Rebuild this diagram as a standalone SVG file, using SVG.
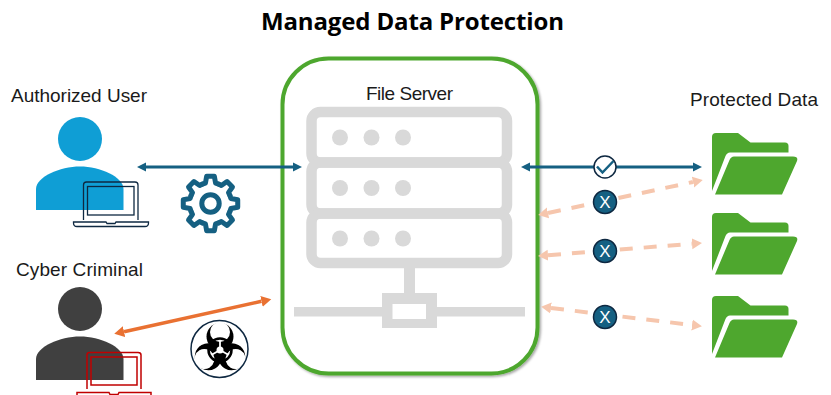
<svg xmlns="http://www.w3.org/2000/svg" width="831" height="395" viewBox="0 0 831 395">
<style>
text{font-family:"Liberation Sans",Arimo,sans-serif;fill:#1a1a1a}
.lbl{font-size:19px}
.title{font-size:24px;font-weight:700;fill:#000;font-family:"Open Sans","Liberation Sans",sans-serif}
.srv{fill:none;stroke:#d9d9d9;stroke-width:10.5}
.dot{fill:#d9d9d9}
.gray{fill:#d9d9d9}
.blue{fill:none;stroke:#156082;stroke-width:3;marker-start:url(#ab);marker-end:url(#ab)}
.orange{fill:none;stroke:#e97132;stroke-width:3.5;marker-start:url(#ao);marker-end:url(#ao)}
.peach{fill:none;stroke:#f6c6ad;stroke-width:4;stroke-dasharray:13 11;marker-start:url(#ap);marker-end:url(#ap)}
.x{fill:#156082;stroke:#0e2841;stroke-width:1.5}
.xt{font-size:17px;fill:#fff;text-anchor:middle}
.lapb{fill:none;stroke:#0e2841;stroke-width:1.3}
.lapr{fill:none;stroke:#c00000;stroke-width:1.5}
.folder{fill:#4ea72e}
.tooth{fill:none;stroke:#156082;stroke-width:5;stroke-linejoin:round;stroke-linecap:round}
</style>
<defs>
<marker id="ab" markerUnits="userSpaceOnUse" markerWidth="10" markerHeight="10" refX="0" refY="5" orient="auto-start-reverse"><path d="M0 0.5L9 5L0 9.500Z" fill="#156082"/></marker>
<marker id="ao" markerUnits="userSpaceOnUse" markerWidth="11" markerHeight="12" refX="0" refY="6" orient="auto-start-reverse"><path d="M0 0.500L10 6L0 11.500Z" fill="#e97132"/></marker>
<marker id="ap" markerUnits="userSpaceOnUse" markerWidth="11" markerHeight="12" refX="0" refY="6" orient="auto-start-reverse"><path d="M0 0.500L10 6L0 11.500Z" fill="#f6c6ad"/></marker>
<filter id="sh" x="-5%" y="-5%" width="110%" height="110%"><feDropShadow dx="1.500" dy="1.500" stdDeviation="1.200" flood-color="#000" flood-opacity="0.350"/></filter>
<path id="body" d="M36 210V189C36 177 60 166.500 80 166.500C100 166.500 123.500 177 123.500 189V210Z"/>
<path id="fold" fill-rule="evenodd" d="M712 137Q712 133 716 133H738L750.500 142.500H785Q788.500 142.500 788.500 146V152.500H730Q727 152.500 725.500 156L712 191ZM734 156.500H793Q798.500 156.500 797 161L782 194.500H715L729.500 160Q731 156.500 734 156.500Z"/>
<path id="tooth" class="tooth" d="M-8.040 -19.400L-5.080 -20.380L-3.830 -27.230L3.830 -27.230L5.080 -20.380L8.040 -19.400"/>
<mask id="bm" maskUnits="userSpaceOnUse" x="-30" y="-32" width="60" height="60">
<rect x="-30" y="-32" width="60" height="60" fill="#fff"/>
<circle cx="0" cy="-18" r="10" fill="#000"/>
</mask>
<g id="blade"><circle cx="0" cy="-13.500" r="13.500" fill="#000" mask="url(#bm)"/></g>
</defs>
<rect width="831" height="395" fill="#fff"/>
<text class="title" x="412.500" y="30" text-anchor="middle" textLength="303">Managed Data Protection</text>

<g id="file-server">
<rect x="282.500" y="58.500" width="255" height="315" rx="46" fill="#fff" stroke="#4ea72e" stroke-width="4" filter="url(#sh)"/>
<text class="lbl" x="366" y="100" textLength="87">File Server</text>
<rect class="srv" x="311.500" y="112" width="195.500" height="50.500" rx="9"/>
<rect class="srv" x="311.500" y="162.500" width="195.500" height="51" rx="9"/>
<rect class="srv" x="311.500" y="213.500" width="195.500" height="49.500" rx="9"/>
<g class="dot">
<circle cx="340" cy="137.500" r="8"/><circle cx="371.500" cy="137.500" r="8"/><circle cx="403" cy="137.500" r="8"/>
<circle cx="340" cy="188" r="8"/><circle cx="371.500" cy="188" r="8"/><circle cx="403" cy="188" r="8"/>
<circle cx="340" cy="238.500" r="8"/><circle cx="371.500" cy="238.500" r="8"/><circle cx="403" cy="238.500" r="8"/>
</g>
<rect class="gray" x="404" y="268" width="11" height="26"/>
<rect class="gray" x="294" y="307" width="89" height="9.500"/>
<rect class="gray" x="436" y="307" width="89" height="9.500"/>
<path class="gray" fill-rule="evenodd" d="M382 293H437V328H382ZM392.500 304V319H426V304Z"/>
</g>

<g id="authorized-user">
<text class="lbl" x="11" y="102" textLength="136">Authorized User</text>
<circle cx="80" cy="139" r="22" fill="#0f9ed5"/>
<use href="#body" fill="#0f9ed5"/>
<path class="lapb" d="M83.500 220V185Q83.500 182 86.500 182H135Q138 182 138 185V220"/>
<rect class="lapb" x="87.500" y="186.500" width="46.500" height="28.500"/>
<path class="lapb" d="M73.500 222H106L107 223.500H115L116 222H148.500V223Q148.500 226.500 145 226.500H77Q73.500 226.500 73.500 223Z"/>
</g>

<g id="cyber-criminal">
<text class="lbl" x="16" y="276" textLength="127">Cyber Criminal</text>
<circle cx="80" cy="309" r="22" fill="#404040"/>
<use href="#body" y="170" fill="#404040"/>
<path class="lapr" d="M87 389V355Q87 352.500 89.500 352.500H138Q141 352.500 141 355V389"/>
<rect class="lapr" x="91" y="357" width="46" height="28"/>
<path class="lapr" d="M77 396V392.500H109L110 394.500H118L119 392.500H151V396"/>
</g>

<g id="gear" transform="translate(210.500,203.500)">
<use href="#tooth"/><use href="#tooth" transform="rotate(45)"/><use href="#tooth" transform="rotate(90)"/><use href="#tooth" transform="rotate(135)"/><use href="#tooth" transform="rotate(180)"/><use href="#tooth" transform="rotate(225)"/><use href="#tooth" transform="rotate(270)"/><use href="#tooth" transform="rotate(315)"/>
<circle r="8.700" fill="none" stroke="#156082" stroke-width="5"/>
</g>

<g id="biohazard" transform="translate(219.500,349)">
<circle r="28.500" fill="#fff" stroke="#0e2841" stroke-width="1.500"/>
<g transform="translate(0.500,1)">
<use href="#blade"/>
<use href="#blade" transform="rotate(120)"/>
<use href="#blade" transform="rotate(240)"/>
<circle r="11.500" fill="none" stroke="#000" stroke-width="2.500"/>
<g stroke="#fff" stroke-width="1.800">
<line x1="0" y1="0" x2="0" y2="-9"/>
<line x1="0" y1="0" x2="0" y2="-9" transform="rotate(120)"/>
<line x1="0" y1="0" x2="0" y2="-9" transform="rotate(240)"/>
</g>
<circle r="3.500" fill="#fff"/>
</g>
</g>

<g id="connectors">
<line class="blue" x1="146" y1="167" x2="293" y2="167"/>
<line class="blue" x1="530" y1="167" x2="693" y2="167"/>
<line class="orange" x1="124" y1="331.700" x2="261.500" y2="301.300"/>
<line class="peach" x1="548" y1="213" x2="693" y2="182"/>
<line class="peach" x1="548" y1="255.200" x2="692" y2="243.800"/>
<line class="peach" x1="551" y1="308" x2="692" y2="325"/>
</g>

<g id="check">
<circle cx="605" cy="167" r="11" fill="#fff" stroke="#0e2841" stroke-width="1.500"/>
<path d="M597 166.500L602.500 172.500L613.500 161" fill="none" stroke="#156082" stroke-width="2.500"/>
</g>
<g id="x1"><circle class="x" cx="605" cy="202" r="11.500"/><text class="xt" x="605" y="208">X</text></g>
<g id="x2"><circle class="x" cx="605" cy="251" r="11.500"/><text class="xt" x="605" y="257">X</text></g>
<g id="x3"><circle class="x" cx="605" cy="317" r="11.500"/><text class="xt" x="605" y="323">X</text></g>

<g id="protected-data">
<text class="lbl" x="690" y="106" textLength="128">Protected Data</text>
<use href="#fold" class="folder"/>
<use href="#fold" class="folder" y="80"/>
<use href="#fold" class="folder" y="163"/>
</g>
</svg>
